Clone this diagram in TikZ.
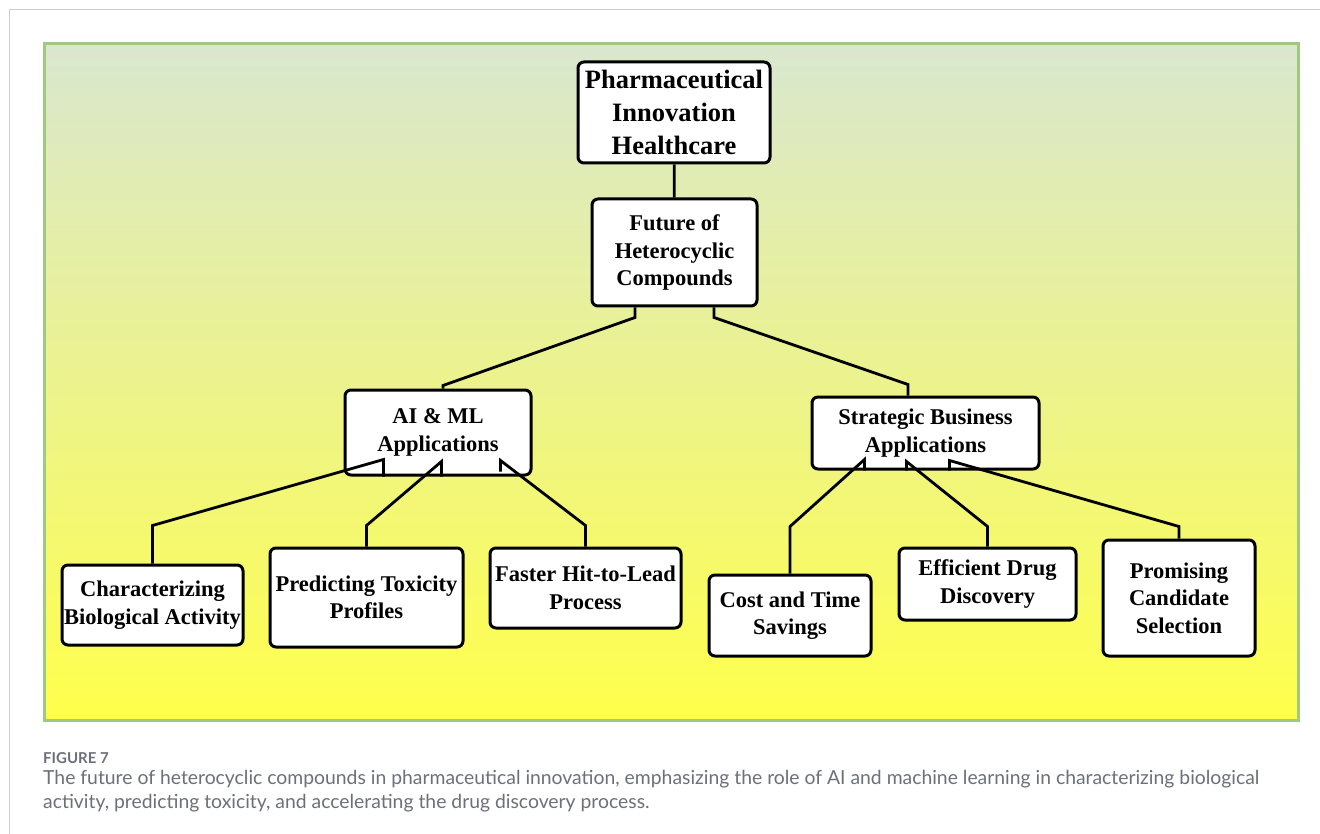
\documentclass[tikz,border=0pt]{standalone}
\usepackage{fontspec}
\setmainfont{Liberation Serif}
\newfontfamily\capfont{Lato}

\definecolor{paneltop}{RGB}{217,231,207}
\definecolor{panelmid}{RGB}{237,241,135}
\definecolor{panelbot}{RGB}{255,255,75}
\definecolor{panelrule}{RGB}{160,200,128}
\definecolor{pagerule}{RGB}{204,204,204}
\definecolor{captext}{RGB}{108,112,122}

\tikzset{
  box/.style={draw=black, line width=3pt, rounded corners=6pt, fill=white,
    inner sep=0pt, align=center, text=black,
    font=\bfseries\fontsize{22.5}{27.5}\selectfont},
  topbox/.style={box, font=\bfseries\fontsize{26.5}{33}\selectfont},
  link/.style={draw=black, line width=2.8pt},
  caption/.style={anchor=base west, inner sep=0pt, text=captext}
}

\newsavebox\capline

\begin{document}
\sbox\capline{\capfont\fontsize{10}{12}\selectfont The future of heterocyclic compounds in pharmaceutical innovation, emphasizing the role of AI and machine learning in characterizing biological}
\pgfmathsetmacro\capsize{10*1216/\the\wd\capline}
\begin{tikzpicture}[x=1pt, y=-1pt]
  \useasboundingbox (0,0) rectangle (1320,834);
  \fill[white] (0,0) rectangle (1320,834);

  % page frame
  \draw[pagerule, line width=1.5pt] (9.5,834) -- (9.5,9.5) -- (1320,9.5);

  % shaded panel
  \shade[top color=paneltop, middle color=panelmid, bottom color=panelbot]
    (44,44) rectangle (1298,720);
  \draw[panelrule, line width=3pt] (44,44) rectangle (1298,720);

  % hierarchy boxes
  \node[topbox, minimum width=192pt, minimum height=101pt] (ph) at (674,112.5)
    {Pharmaceutical\\Innovation\\Healthcare};
  \node[box, minimum width=165pt, minimum height=107pt] (fu) at (674.5,252.5)
    {Future of\\Heterocyclic\\Compounds};
  \node[box, minimum width=186pt, minimum height=85pt] (ai) at (438,432.5)
    {AI \& ML\\Applications};
  \node[box, minimum width=227pt, minimum height=72pt] (sb) at (925.5,433)
    {Strategic Business\\Applications};
  \node[box, minimum width=181pt, minimum height=80pt] (ch) at (152.5,605)
    {Characterizing\\Biological Activity};
  \node[box, minimum width=193pt, minimum height=99pt] (pr) at (366.5,597.5)
    {Predicting Toxicity\\Profiles};
  \node[box, minimum width=191pt, minimum height=80pt] (fa) at (585.5,588)
    {Faster Hit-to-Lead\\Process};
  \node[box, minimum width=162pt, minimum height=81pt] (co) at (790,615.5)
    {Cost and Time\\Savings};
  \node[box, minimum width=177pt, minimum height=72pt] (ef) at (987.5,584)
    {Efficient Drug\\Discovery};
  \node[box, minimum width=152pt, minimum height=116pt] (pm) at (1179,598)
    {Promising\\Candidate\\Selection};

  % connectors
  \draw[link] (ph) -- (fu);
  \draw[link] ([xshift=-39.5pt]fu.south) -- ++(0,10)
    -- ([xshift=5pt,yshift=3pt]ai.north) -- ([xshift=5pt]ai.north);
  \draw[link] ([xshift=39.5pt]fu.south) -- ++(0,10)
    -- ([xshift=-17.5pt,yshift=11pt]sb.north) -- ([xshift=-17.5pt]sb.north);

  \draw[link] (ch.north) -- ++(0,-38)
    -- ([xshift=40pt,yshift=17pt]ai.south west) -- ([xshift=40pt]ai.south west);
  \draw[link] (pr.north) -- ++(0,-21)
    -- ([xshift=98pt,yshift=15pt]ai.south west) -- ([xshift=98pt]ai.south west);
  \draw[link] (fa.north) -- ++(0,-21)
    -- ([xshift=157pt,yshift=16pt]ai.south west) -- ([xshift=157pt,yshift=5pt]ai.south west);

  \draw[link] (co.north) -- ++(0,-47)
    -- ([xshift=54pt,yshift=11pt]sb.south west) -- ([xshift=54pt]sb.south west);
  \draw[link] (ef.north) -- ++(0,-20)
    -- ([xshift=96pt,yshift=9pt]sb.south west) -- ([xshift=96pt]sb.south west);
  \draw[link] (pm.north) -- ++(0,-12)
    -- ([xshift=139pt,yshift=10pt]sb.south west) -- ([xshift=139pt]sb.south west);

  % caption
  \node[caption, font=\capfont\bfseries\fontsize{15}{17}\selectfont] (fig) at (43,763)
    {FIGURE 7};
  \node[caption, font=\capfont\fontsize{\capsize}{24}\selectfont] (cap1) at (43,784)
    {The future of heterocyclic compounds in pharmaceutical innovation, emphasizing the role of AI and machine learning in characterizing biological};
  \node[caption, font=\capfont\fontsize{\capsize}{24}\selectfont] (cap2) at (43,808)
    {activity, predicting toxicity, and accelerating the drug discovery process.};
\end{tikzpicture}
\end{document}
